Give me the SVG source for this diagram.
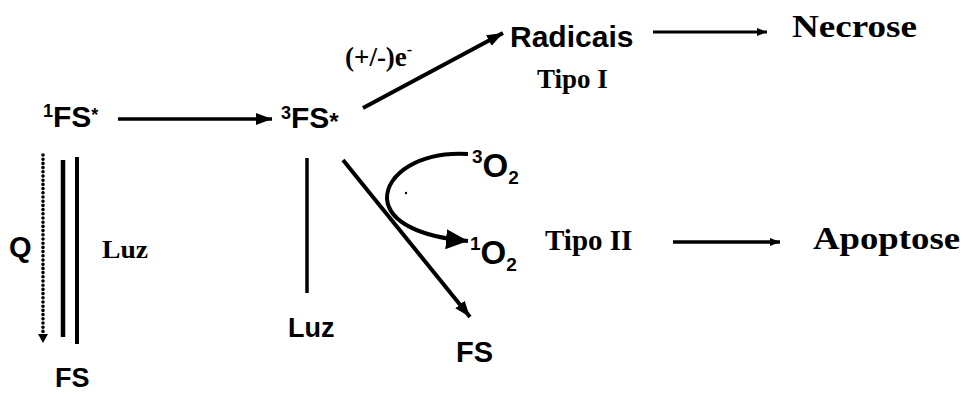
<svg xmlns="http://www.w3.org/2000/svg" width="963" height="394" viewBox="0 0 963 394">
<style>
.sans{font-family:"Liberation Sans",Arial,sans-serif;font-weight:bold;fill:#000}
.serif{font-family:"Liberation Serif","Times New Roman",serif;font-weight:bold;fill:#000}
.ln{stroke:#000;fill:none}
.dot{stroke:#000;fill:none;stroke-width:3.6;stroke-dasharray:0 4.2;stroke-linecap:round}
</style>
<defs>
<marker id="ah" markerUnits="userSpaceOnUse" markerWidth="20" markerHeight="16" refX="16" refY="6" orient="auto"><path d="M0,0 L16,6 L0,12 Z" fill="#000"/></marker>
<marker id="ahs" markerUnits="userSpaceOnUse" markerWidth="14" markerHeight="10" refX="10" refY="4" orient="auto"><path d="M0,0 L10,4 L0,8 Z" fill="#000"/></marker>
<marker id="ahb" markerUnits="userSpaceOnUse" markerWidth="26" markerHeight="22" refX="22" refY="10" orient="auto"><path d="M0,0 L22,10 L0,20 Z" fill="#000"/></marker>
</defs>
<rect width="963" height="394" fill="#fff"/>
<g id="connectors">
<line class="ln" x1="118" y1="119" x2="272" y2="119" stroke-width="3.5" marker-end="url(#ah)"/>
<line class="ln" x1="363" y1="108" x2="503" y2="33" stroke-width="4" marker-end="url(#ah)"/>
<line class="ln" x1="653" y1="32" x2="767" y2="32" stroke-width="3" marker-end="url(#ahs)"/>
<line class="ln" x1="673" y1="242" x2="780" y2="242" stroke-width="3.5" marker-end="url(#ahs)"/>
<line class="dot" x1="43" y1="155" x2="43" y2="334"/>
<path d="M38,334 L48,334 L43,343 Z" fill="#000"/>
<line class="ln" x1="63" y1="160" x2="63" y2="337" stroke-width="4.5"/>
<line class="ln" x1="77" y1="157" x2="77" y2="344" stroke-width="4"/>
<line class="ln" x1="307" y1="158" x2="307" y2="293" stroke-width="3.5"/>
<line class="ln" x1="343" y1="160" x2="470" y2="317" stroke-width="4" marker-end="url(#ah)"/>
<path class="ln" d="M468,154 C420,151 386,174 387,199 C389,222 420,237 468,241" stroke-width="4" marker-end="url(#ahb)"/>
<circle cx="406" cy="193" r="1.2" fill="#000"/>
</g>
<g id="n1FS">
<text class="sans" x="43" y="127" font-size="30"><tspan font-size="18" dy="-10">1</tspan><tspan dy="10">FS</tspan><tspan font-size="18" dy="-6">*</tspan></text>
</g>
<g id="n3FS">
<text class="sans" x="281" y="128" font-size="30"><tspan font-size="18" dy="-9">3</tspan><tspan dy="9">FS</tspan><tspan font-size="24" dy="2">*</tspan></text>
</g>
<g id="nElectron">
<text class="serif" x="345" y="66" font-size="27">(+/-)e<tspan font-size="16" dy="-11">-</tspan></text>
</g>
<g id="nRadicais">
<text class="sans" x="510" y="47" font-size="30">Radicais</text>
</g>
<g id="nTipoI">
<text class="serif" x="537" y="88" font-size="27">Tipo I</text>
</g>
<g id="nNecrose">
<text class="serif" x="792" y="37" font-size="32" textLength="125" lengthAdjust="spacingAndGlyphs">Necrose</text>
</g>
<g id="nQ">
<text class="sans" x="9" y="257" font-size="29">Q</text>
</g>
<g id="nLuz1">
<text class="serif" x="102" y="258" font-size="25" textLength="46" lengthAdjust="spacingAndGlyphs">Luz</text>
</g>
<g id="nFSbottom">
<text class="sans" x="55" y="387" font-size="27">FS</text>
</g>
<g id="nLuz2">
<text class="sans" x="288" y="337" font-size="27">Luz</text>
</g>
<g id="nFS2">
<text class="sans" x="456" y="362" font-size="29">FS</text>
</g>
<g id="n3O2">
<text class="sans" x="472" y="177" font-size="33"><tspan font-size="19" dy="-14">3</tspan><tspan dy="14">O</tspan><tspan font-size="19" dy="7">2</tspan></text>
</g>
<g id="n1O2">
<text class="sans" x="470" y="264" font-size="33"><tspan font-size="19" dy="-14">1</tspan><tspan dy="14">O</tspan><tspan font-size="19" dy="7">2</tspan></text>
</g>
<g id="nTipoII">
<text class="serif" x="545" y="250" font-size="29">Tipo II</text>
</g>
<g id="nApoptose">
<text class="serif" x="813" y="249" font-size="32" textLength="147" lengthAdjust="spacingAndGlyphs">Apoptose</text>
</g>
</svg>
